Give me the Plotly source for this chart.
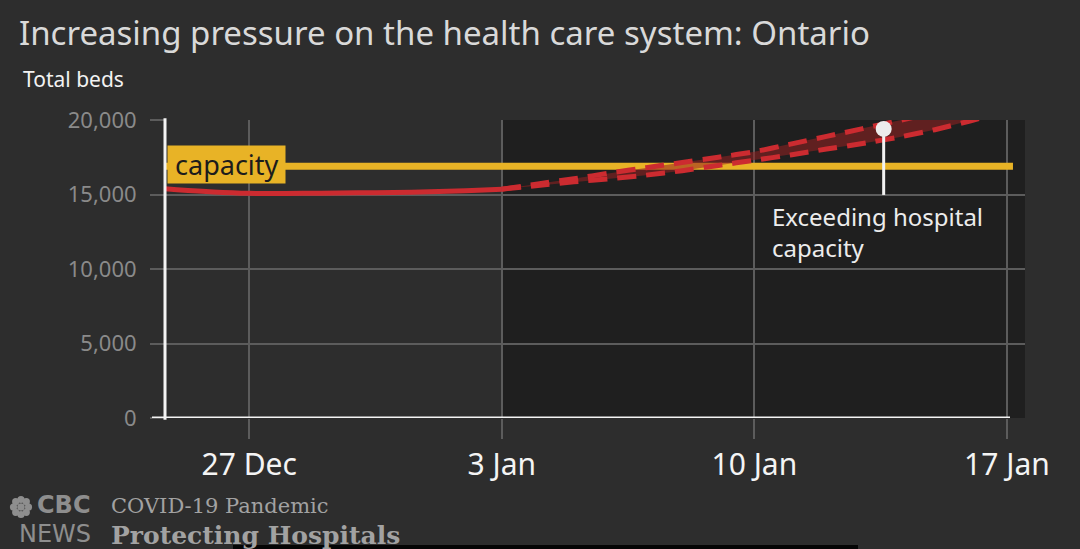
import math
import plotly.graph_objects as go

# ---------------- data ----------------
hist_dates = ["2020-12-24", "2020-12-25", "2020-12-26", "2020-12-27", "2020-12-28",
              "2020-12-29", "2020-12-30", "2020-12-31", "2021-01-01", "2021-01-02",
              "2021-01-03"]
hist_beds = [15500, 15320, 15170, 15080, 15070, 15090, 15110, 15140, 15180, 15250, 15360]

proj_dates = ["2021-01-03", "2021-01-04", "2021-01-05", "2021-01-06", "2021-01-07",
              "2021-01-08", "2021-01-09", "2021-01-10", "2021-01-11", "2021-01-12",
              "2021-01-13", "2021-01-14", "2021-01-15", "2021-01-16", "2021-01-17"]
proj_high = [15360, 15710, 16060, 16440, 16800, 17150, 17500, 17870, 18380, 18900,
             19420, 19960, 20500, 21050, 21600]
proj_low = [15360, 15600, 15850, 16060, 16300, 16600, 16950, 17300, 17650, 18050,
            18420, 18850, 19350, 19950, 20600]

capacity_value = 16900
capacity_dates = ["2020-12-24 16:00", "2021-01-17 04:00"]

marker_date = "2021-01-13 14:00"
marker_value = 19400
marker_stem_bottom = 14970

tick_dates = ["2020-12-27", "2021-01-03", "2021-01-10", "2021-01-17"]
tick_labels = ["27 Dec", "3 Jan", "10 Jan", "17 Jan"]
y_ticks = [0, 5000, 10000, 15000, 20000]
y_tick_labels = ["0", "5,000", "10,000", "15,000", "20,000"]

x_range = ["2020-12-24 16:00", "2021-01-17 12:00"]
proj_start = "2021-01-03"

# ---------------- style ----------------
FONT = "Noto Sans"
BG = "#2d2d2d"
DARK = "#1f1f1f"
GRID = "#5c5c5c"
RED = "#cc2b30"
YELLOW = "#e8b326"

fig = go.Figure()

# capacity line
fig.add_trace(go.Scatter(x=capacity_dates, y=[capacity_value] * len(capacity_dates),
                         mode="lines", line=dict(color=YELLOW, width=7),
                         hoverinfo="skip", showlegend=False))

# projection band
fig.add_trace(go.Scatter(x=proj_dates, y=proj_low, mode="lines",
                         line=dict(width=0, color="rgba(0,0,0,0)"),
                         hoverinfo="skip", showlegend=False))
fig.add_trace(go.Scatter(x=proj_dates, y=proj_high, mode="lines", fill="tonexty",
                         fillcolor="rgba(150,32,32,0.55)",
                         line=dict(width=0, color="rgba(0,0,0,0)"),
                         hoverinfo="skip", showlegend=False))

# projection dashed lines
for series in (proj_high, proj_low):
    fig.add_trace(go.Scatter(x=proj_dates, y=series, mode="lines",
                             line=dict(color=RED, width=5, dash="19px,10px", shape="spline",
                                       smoothing=0.6),
                             hoverinfo="skip", showlegend=False))

# historical solid line
fig.add_trace(go.Scatter(x=hist_dates, y=hist_beds, mode="lines",
                         line=dict(color=RED, width=5, shape="spline", smoothing=0.8),
                         hoverinfo="skip", showlegend=False))

# annotation stem and dot
fig.add_trace(go.Scatter(x=[marker_date, marker_date], y=[marker_stem_bottom, marker_value],
                         mode="lines", line=dict(color="#f2f2f2", width=3),
                         hoverinfo="skip", showlegend=False))
fig.add_trace(go.Scatter(x=[marker_date], y=[marker_value], mode="markers",
                         marker=dict(color="#ececec", size=16),
                         hoverinfo="skip", showlegend=False, cliponaxis=False))


def px(xp):
    return (xp - 165) / 860


def py(yp):
    return (418 - yp) / 298


shapes = [
    # darker projection region
    dict(type="rect", xref="x", yref="paper", x0=proj_start, x1=x_range[1], y0=0, y1=1,
         fillcolor=DARK, line=dict(width=0), layer="below"),
    # y axis line
    dict(type="line", xref="paper", yref="paper", x0=0, x1=0, y0=-0.006, y1=1.006,
         line=dict(color="#f4f4f4", width=3), layer="above"),
    # x axis line
    dict(type="line", xref="paper", yref="y", x0=px(152), x1=px(1010), y0=0, y1=0,
         line=dict(color="#f4f4f4", width=3), layer="above"),
    # bottom black bar (video frame)
    dict(type="rect", xref="paper", yref="paper", x0=px(233), x1=px(858),
         y0=py(552), y1=py(545), fillcolor="#050505",
         line=dict(width=0), layer="above"),
]

# CBC gem (approximation)
gem_cx, gem_cy = 21, 507
for k in range(8):
    ang = k * math.pi / 4
    cx = gem_cx + 7.5 * math.cos(ang)
    cy = gem_cy + 7.5 * math.sin(ang)
    shapes.append(dict(type="circle", xref="paper", yref="paper",
                       x0=px(cx - 3.6), x1=px(cx + 3.6),
                       y0=py(cy + 3.6), y1=py(cy - 3.6),
                       fillcolor="#8e8e8e", line=dict(width=0)))
shapes.append(dict(type="circle", xref="paper", yref="paper",
                   x0=px(gem_cx - 3.8), x1=px(gem_cx + 3.8),
                   y0=py(gem_cy + 3.8), y1=py(gem_cy - 3.8),
                   fillcolor="#8e8e8e", line=dict(width=0)))

annotations = [
    dict(text="Increasing pressure on the health care system: Ontario", x=px(17), y=py(32),
         xref="paper", yref="paper", xanchor="left", yanchor="middle", showarrow=False,
         font=dict(family=FONT, size=33, color="#d9d9d9")),
    dict(text="Total beds", x=px(21), y=py(79), xref="paper", yref="paper",
         xanchor="left", yanchor="middle", showarrow=False,
         font=dict(family=FONT, size=21, color="#f2f2f2")),
    dict(text="\u00a0capacity\u00a0", x=x_range[0], y=capacity_value, xref="x", yref="y",
         xanchor="left", yanchor="middle", showarrow=False, bgcolor=YELLOW,
         borderpad=0, xshift=2, yshift=2,
         font=dict(family=FONT, size=27, color="#1c1c1c")),
    dict(text="Exceeding hospital<br>capacity", x="2021-01-10 10:30", y=14750,
         xref="x", yref="y", xanchor="left", yanchor="top", align="left",
         showarrow=False, font=dict(family=FONT, size=24, color="#ececec")),
    dict(text="<b>CBC</b>", x=px(93), y=py(505), xref="paper", yref="paper",
         xanchor="right", yanchor="middle", align="right", showarrow=False,
         font=dict(family="DejaVu Sans", size=24, color="#8e8e8e")),
    dict(text="NEWS", x=px(93), y=py(534), xref="paper", yref="paper",
         xanchor="right", yanchor="middle", align="right", showarrow=False,
         font=dict(family="DejaVu Sans", size=24, color="#8e8e8e")),
    dict(text="COVID-19 Pandemic", x=px(109), y=py(506), xref="paper", yref="paper",
         xanchor="left", yanchor="middle", showarrow=False,
         font=dict(family="DejaVu Serif", size=21, color="#a2a2a2")),
    dict(text="<b>Protecting Hospitals</b>", x=px(109), y=py(535), xref="paper", yref="paper",
         xanchor="left", yanchor="middle", showarrow=False,
         font=dict(family="DejaVu Serif", size=25, color="#a2a2a2")),
]

fig.update_layout(
    width=1080, height=549,
    margin=dict(l=165, r=55, t=120, b=131),
    paper_bgcolor=BG, plot_bgcolor=BG,
    font=dict(family=FONT),
    showlegend=False,
    shapes=shapes,
    annotations=annotations,
    xaxis=dict(type="date", range=x_range, tickvals=tick_dates, ticktext=tick_labels,
               showgrid=True, gridcolor=GRID, gridwidth=2, zeroline=False,
               showline=False, ticks="outside", ticklen=20, tickwidth=2, tickcolor=GRID,
               tickfont=dict(family=FONT, size=30, color="#f4f4f4"),
               ticklabelstandoff=0, fixedrange=True),
    yaxis=dict(range=[0, 20000], tickvals=y_ticks, ticktext=y_tick_labels,
               showgrid=True, gridcolor=GRID, gridwidth=2, zeroline=False,
               showline=False, ticks="outside", ticklen=14, tickwidth=2, tickcolor=GRID,
               tickfont=dict(family=FONT, size=22, color="#8a8a8a"),
               ticklabelstandoff=9, fixedrange=True),
)

fig.write_html("out.html")
